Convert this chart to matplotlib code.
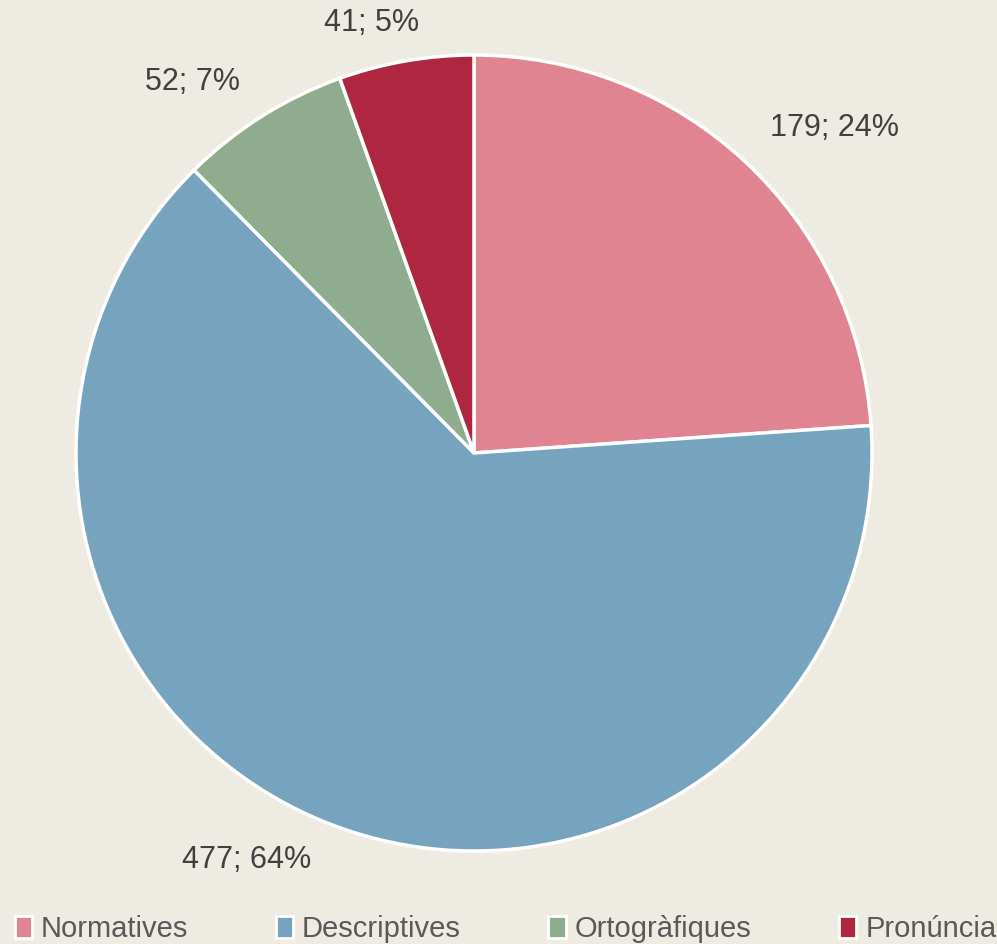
import numpy as np
import matplotlib.pyplot as plt
from matplotlib.patches import Patch
from matplotlib import font_manager

categories = ['Normatives', 'Descriptives', 'Ortogràfiques', 'Pronúncia']
counts = [179, 477, 52, 41]
percents = [24, 64, 7, 5]
colors = ['#E08492', '#76A3BD', '#8FAD8E', '#AE2640']

bg = '#EEEBE3'
names = {f.name for f in font_manager.fontManager.ttflist}
label_font = 'Liberation Sans' if 'Liberation Sans' in names else 'DejaVu Sans'
legend_font = 'Liberation Sans Narrow' if 'Liberation Sans Narrow' in names else label_font

W, H = 997, 944
fig = plt.figure(figsize=(W / 100, H / 100), dpi=100, facecolor=bg)
cx, cy, r = 474, 453, 398
ax = fig.add_axes([(cx - r) / W, (H - cy - r) / H, 2 * r / W, 2 * r / H])
ax.set_facecolor(bg)

wedges, _ = ax.pie(counts, colors=colors, startangle=90, counterclock=False,
                   radius=1.0, wedgeprops=dict(edgecolor='white', linewidth=2.5))
ax.set_xlim(-1, 1)
ax.set_ylim(-1, 1)
ax.set_aspect('equal')
ax.axis('off')

# label placement: (angle shift in degrees, distance in radii)
tweaks = [(-5, 1.22), (-8.5, 1.17), (5, 1.17), (3.5, 1.11)]
for w, n, p, (da, d) in zip(wedges, counts, percents, tweaks):
    mid = np.deg2rad((w.theta1 + w.theta2) / 2 + da)
    ax.text(d * np.cos(mid), d * np.sin(mid), f'{n}; {p}%', ha='center', va='center',
            fontsize=22, color='#404040', family=label_font, clip_on=False)

handles = [Patch(facecolor=c, edgecolor='white', linewidth=2) for c in colors]
leg = fig.legend(handles, categories, loc='lower center', bbox_to_anchor=(0.507, -0.027),
                 ncol=4, frameon=False, handlelength=0.6, handleheight=0.8,
                 handletextpad=0.3, columnspacing=3.0,
                 prop=dict(family=legend_font, size=21))
for t in leg.get_texts():
    t.set_color('#595959')

fig.savefig('out.png', dpi=100, facecolor=bg)
